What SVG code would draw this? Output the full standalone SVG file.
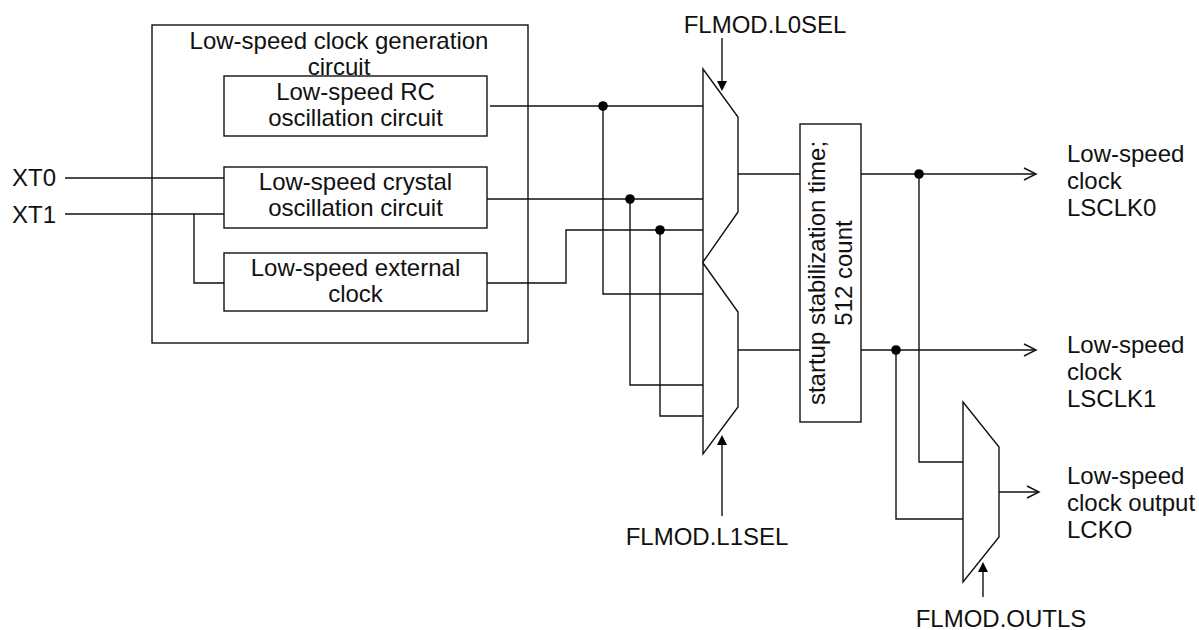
<svg xmlns="http://www.w3.org/2000/svg" width="1199" height="630" viewBox="0 0 1199 630">
<style>
text{font-family:"Liberation Sans",Arial,sans-serif;font-size:24px;fill:#111}
.c{text-anchor:middle}
.box{fill:#fff;stroke:#111;stroke-width:1.4}
.mux{fill:none;stroke:#111;stroke-width:1.4}
.w{fill:none;stroke:#111;stroke-width:1.4}
.dot{fill:#000}
.ah{fill:#000}
</style>
<rect width="1199" height="630" fill="#fff"/>
<g id="gen-circuit">
<rect class="box" x="152" y="25" width="376" height="318"/>
<text class="c" x="339" y="49">Low-speed clock generation</text>
<text class="c" x="339" y="75">circuit</text>
</g>
<g id="rc-osc">
<rect class="box" x="224" y="76" width="263" height="60" fill="none" style="fill:none"/>
<text class="c" x="355.5" y="100">Low-speed RC</text>
<text class="c" x="355.5" y="126">oscillation circuit</text>
</g>
<g id="crystal-osc">
<rect class="box" x="224" y="167" width="263" height="61"/>
<text class="c" x="355.5" y="190">Low-speed crystal</text>
<text class="c" x="355.5" y="216">oscillation circuit</text>
</g>
<g id="ext-clock">
<rect class="box" x="224" y="253" width="263" height="58"/>
<text class="c" x="355.5" y="276">Low-speed external</text>
<text class="c" x="355.5" y="302">clock</text>
</g>
<g id="xt0"><text x="12" y="186">XT0</text></g>
<g id="xt1"><text x="12" y="223">XT1</text></g>
<g id="mux0"><polygon class="mux" points="703,69 738,117 738,212 703,262"/></g>
<g id="mux1"><polygon class="mux" points="703,263 738,312 738,407 703,454"/></g>
<g id="stab">
<rect class="box" x="800" y="124" width="61" height="298"/>
<text class="c" transform="translate(825,273) rotate(-90)">startup stabilization time;</text>
<text class="c" transform="translate(852,273) rotate(-90)">512 count</text>
</g>
<g id="mux2"><polygon class="mux" points="963,402 999,447 999,537 963,582"/></g>
<g id="l0sel"><text class="c" x="765" y="33">FLMOD.L0SEL</text></g>
<g id="l1sel"><text class="c" x="707" y="545">FLMOD.L1SEL</text></g>
<g id="outls"><text class="c" x="1001" y="627">FLMOD.OUTLS</text></g>
<g id="lsclk0"><text x="1067" y="162">Low-speed</text><text x="1067" y="189">clock</text><text x="1067" y="216">LSCLK0</text></g>
<g id="lsclk1"><text x="1067" y="353">Low-speed</text><text x="1067" y="380">clock</text><text x="1067" y="407">LSCLK1</text></g>
<g id="lcko"><text x="1067" y="484">Low-speed</text><text x="1067" y="511">clock output</text><text x="1067" y="538">LCKO</text></g>
<g id="connectors">
<path class="w" d="M65,178 H224"/>
<path class="w" d="M65,214 H224"/>
<path class="w" d="M194,214 V283 H224"/>
<path class="w" d="M490,106 H703"/>
<path class="w" d="M487,199 H703"/>
<path class="w" d="M487,283 H566 V230 H703"/>
<path class="w" d="M603,106 V294 H703"/>
<path class="w" d="M630,199 V385 H703"/>
<path class="w" d="M660,230 V416 H703"/>
<circle class="dot" cx="603" cy="106" r="4.8"/>
<circle class="dot" cx="630" cy="199" r="4.8"/>
<circle class="dot" cx="660" cy="230" r="4.8"/>
<path class="w" d="M738,174 H800"/>
<path class="w" d="M738,350 H800"/>
<path class="w" d="M861,174 H1036"/>
<path class="w" d="M1024,168 L1036,174 L1024,180"/>
<path class="w" d="M861,350 H1036"/>
<path class="w" d="M1024,344 L1036,350 L1024,356"/>
<circle class="dot" cx="919" cy="174" r="4.8"/>
<circle class="dot" cx="896" cy="350" r="4.8"/>
<path class="w" d="M919,174 V462 H963"/>
<path class="w" d="M896,350 V519 H963"/>
<path class="w" d="M999,492 H1039"/>
<path class="w" d="M1027,486 L1039,492 L1027,498"/>
<path class="w" d="M722,38 V82"/>
<polygon class="ah" points="717,81 727,81 722,91"/>
<path class="w" d="M722,516 V444"/>
<polygon class="ah" points="717,445 727,445 722,435"/>
<path class="w" d="M983,597 V571"/>
<polygon class="ah" points="978,572 988,572 983,562"/>
</g>
</svg>
